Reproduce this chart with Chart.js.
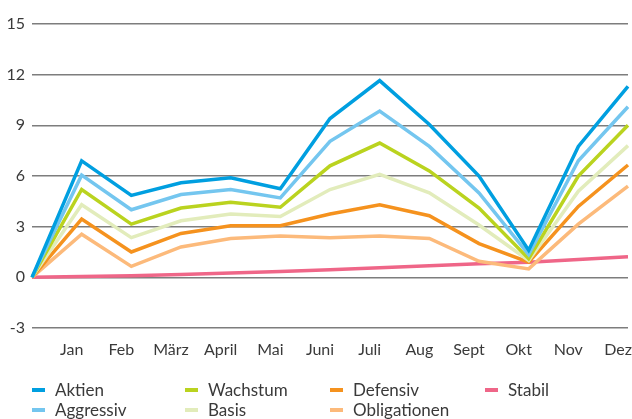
<!DOCTYPE html>
<html lang="de">
<head>
<meta charset="utf-8">
<title>Entwicklung der Strategien</title>
<script src="https://cdn.jsdelivr.net/npm/chart.js@4"></script>
<style>
  html, body { margin: 0; padding: 0; background: #fff; }
  body { width: 632px; height: 419px; overflow: hidden; position: relative;
         font-family: Lato, 'Noto Sans', sans-serif; color: #3a3a3a; }
  #wrap { position: absolute; left: 0; top: 0; width: 632px; height: 419px; }
  #legend { position: absolute; left: 32px; top: 380px;
            display: grid; grid-template-rows: 20px 20px; grid-auto-flow: column;
            grid-template-columns: 153px 145px 155px 120px; font-size: 17px; }
  #legend .item { display: flex; align-items: center; white-space: nowrap; line-height: 20px; }
  #legend .mark { display: inline-block; width: 13px; height: 4px; margin-right: 10px; }
</style>
</head>
<body>
<div id="wrap"><canvas id="chart" width="632" height="419"></canvas></div>
<div id="legend"></div>
<script>
/* ---------- Daten ---------- */
const MONATE = ['', 'Jan', 'Feb', 'März', 'April', 'Mai', 'Juni', 'Juli', 'Aug', 'Sept', 'Okt', 'Nov', 'Dez'];

const AKTIEN       = [0, 6.9, 4.85, 5.6, 5.9, 5.25, 9.4, 11.65, 9.05, 6.0, 1.6, 7.75, 11.3];
const AGGRESSIV    = [0, 6.05, 4.0, 4.9, 5.2, 4.7, 8.05, 9.85, 7.75, 5.0, 1.35, 6.9, 10.1];
const WACHSTUM     = [0, 5.2, 3.15, 4.1, 4.45, 4.15, 6.6, 7.95, 6.3, 4.1, 1.1, 6.0, 9.0];
const BASIS        = [0, 4.3, 2.35, 3.35, 3.75, 3.6, 5.2, 6.1, 5.0, 3.1, 1.0, 5.1, 7.8];
const DEFENSIV     = [0, 3.45, 1.5, 2.6, 3.05, 3.05, 3.75, 4.3, 3.65, 2.0, 0.9, 4.2, 6.65];
const OBLIGATIONEN = [0, 2.55, 0.65, 1.8, 2.3, 2.45, 2.35, 2.45, 2.3, 0.95, 0.5, 3.15, 5.4];
const STABIL       = [0, 0.05, 0.1, 0.17, 0.25, 0.35, 0.45, 0.57, 0.68, 0.8, 0.9, 1.05, 1.22];

const Y_TICKS = [-3, 0, 3, 6, 9, 12, 15];

/* ---------- Serien ---------- */
const SERIEN = [
  { label: 'Aktien',       data: AKTIEN,       color: '#009fe0' },
  { label: 'Aggressiv',    data: AGGRESSIV,    color: '#74c6ef' },
  { label: 'Wachstum',     data: WACHSTUM,     color: '#bad31f' },
  { label: 'Basis',        data: BASIS,        color: '#e2ecbb' },
  { label: 'Defensiv',     data: DEFENSIV,     color: '#f5921e' },
  { label: 'Obligationen', data: OBLIGATIONEN, color: '#fcba7b' },
  { label: 'Stabil',       data: STABIL,       color: '#ef6688' },
];

/* ---------- Legende (HTML) ---------- */
document.getElementById('legend').innerHTML = SERIEN.map(s =>
  `<div class="item"><span class="mark" style="background:${s.color}"></span>${s.label}</div>`
).join('');

/* ---------- Chart ---------- */
const ctx = document.getElementById('chart').getContext('2d');
new Chart(ctx, {
  type: 'line',
  data: {
    labels: MONATE,
    datasets: SERIEN.map(s => ({
      label: s.label,
      data: s.data,
      borderColor: s.color,
      backgroundColor: s.color,
      borderWidth: 3.5,
      pointRadius: 0,
      tension: 0,
      fill: false,
      borderJoinStyle: 'miter',
    })),
  },
  options: {
    responsive: false,
    animation: false,
    layout: { padding: { top: 24, right: 4, left: 0, bottom: 0 } },
    plugins: { legend: { display: false }, tooltip: { enabled: false } },
    scales: {
      x: {
        offset: false,
        grid: { display: false, drawTicks: false },
        border: { display: false },
        ticks: { color: '#3a3a3a', font: { family: 'Lato', size: 16 }, padding: 12,
                 labelOffset: -10, maxRotation: 0, autoSkip: false },
        afterFit: sc => { sc.height = 91; sc.paddingLeft = 0; sc.paddingRight = 0; },
      },
      y: {
        min: -3, max: 15,
        afterBuildTicks: sc => { sc.ticks = Y_TICKS.map(v => ({ value: v })); },
        grid: { color: '#7d7d7d', lineWidth: 1.5, drawTicks: false },
        border: { display: false },
        ticks: { color: '#3a3a3a', font: { family: 'Lato', size: 16 }, padding: 7 },
        afterFit: sc => { sc.width = 32; },
      },
    },
  },
});
</script>
</body>
</html>
